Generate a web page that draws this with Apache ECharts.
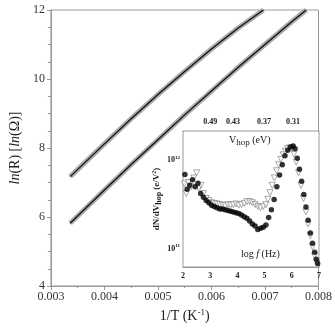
<!DOCTYPE html>
<html>
<head>
<meta charset="utf-8">
<script src="https://cdn.jsdelivr.net/npm/echarts@6/dist/echarts.min.js"></script>
<style>
  html, body { margin: 0; padding: 0; background: #fff; }
  #chart { width: 335px; height: 332px; }
</style>
</head>
<body>
<div id="chart"></div>
<script>
// main plot: ln(R) vs 1/T
const invT_upper = [0.00336, 0.0040, 0.0045, 0.0050, 0.0055, 0.0060, 0.0065, 0.00697];
const lnR_upper  = [7.17, 8.12, 8.85, 9.55, 10.22, 10.87, 11.48, 12.0];
const invT_lower = [0.00336, 0.0040, 0.0045, 0.0050, 0.0055, 0.0060, 0.0065, 0.0070, 0.0075, 0.00777];
const lnR_lower  = [5.82, 6.78, 7.52, 8.24, 8.96, 9.65, 10.34, 11.0, 11.66, 12.0];

// inset: dN/dV_hop vs log f
const logf_circ = [2.07, 2.15, 2.25, 2.35, 2.45, 2.55, 2.65, 2.75, 2.85, 2.95, 3.05, 3.15, 3.25, 3.35, 3.45,
  3.55, 3.65, 3.75, 3.85, 3.95, 4.05, 4.15, 4.25, 4.35, 4.45, 4.55, 4.65, 4.75, 4.85, 4.95, 5.05, 5.15,
  5.25, 5.35, 5.45, 5.55, 5.65, 5.75, 5.85, 5.95, 6.05, 6.12, 6.2, 6.28, 6.36, 6.44, 6.52, 6.6, 6.68,
  6.76, 6.84, 6.9, 6.95];
const dndv_circ = [6.9e11, 4.7e11, 5.2e11, 6.0e11, 5.0e11, 5.5e11, 4.2e11, 3.8e11, 3.5e11, 3.3e11, 3.1e11,
  3.0e11, 2.9e11, 2.8e11, 2.8e11, 2.75e11, 2.7e11, 2.65e11, 2.6e11, 2.55e11, 2.5e11, 2.4e11, 2.3e11, 2.2e11,
  2.05e11, 1.9e11, 1.8e11, 1.65e11, 1.7e11, 1.75e11, 1.85e11, 2.25e11, 2.75e11, 3.6e11, 5.0e11, 6.8e11,
  8.9e11, 1.12e12, 1.3e12, 1.41e12, 1.45e12, 1.35e12, 1.05e12, 7.9e11, 5.8e11, 4.1e11, 2.95e11, 2.1e11,
  1.5e11, 1.15e11, 9.1e10, 7.6e10, 6.8e10];
const logf_tri = [2.05, 2.12, 2.2, 2.3, 2.4, 2.5, 2.58, 2.66, 2.75, 2.85, 2.95, 3.05, 3.15, 3.25, 3.35, 3.45,
  3.55, 3.65, 3.75, 3.85, 3.95, 4.05, 4.15, 4.25, 4.35, 4.45, 4.55, 4.65, 4.75, 4.85, 4.95, 5.05, 5.12,
  5.2, 5.28, 5.36, 5.44, 5.52, 5.6, 5.68, 5.76, 5.84, 5.92, 6.0, 6.08, 6.16, 6.25, 6.34, 6.43, 6.52,
  6.6, 6.68, 6.76, 6.84, 6.92];
const dndv_tri = [5.4e11, 4.2e11, 5.6e11, 5.0e11, 6.3e11, 7.2e11, 4.8e11, 5.2e11, 4.2e11, 3.7e11, 3.5e11,
  3.3e11, 3.25e11, 3.2e11, 3.15e11, 3.1e11, 3.05e11, 3.15e11, 3.1e11, 3.15e11, 3.2e11, 3.1e11, 3.15e11,
  3.25e11, 3.4e11, 3.4e11, 3.3e11, 3.15e11, 3.0e11, 2.9e11, 3.0e11, 3.15e11, 3.6e11, 4.3e11, 5.2e11,
  6.3e11, 7.6e11, 8.9e11, 1.02e12, 1.15e12, 1.26e12, 1.35e12, 1.38e12, 1.35e12, 1.17e12, 9.5e11, 7.2e11,
  5.2e11, 3.7e11, 2.6e11, 1.9e11, 1.4e11, 1.05e11, 8.3e10, 6.9e10];

// top axis of inset: V_hop (eV) at log f positions
const vhopPos = [3.0, 3.84, 4.98, 6.04];
const vhopLabels = ['0.49', '0.43', '0.37', '0.31'];

const zip = (a, b) => a.map((v, i) => [v, b[i]]);
const serif = 'Liberation Serif';

const chart = echarts.init(document.getElementById('chart'), null, {renderer: 'canvas'});
const option = {
  backgroundColor: '#ffffff',
  animation: false,
  textStyle: {fontFamily: serif},
  grid: [
    {left: 45, right: 15, top: 10, bottom: 46, show: true, borderColor: '#999', borderWidth: 1},
    {left: 183, right: 16, top: 131, bottom: 65, show: true, borderColor: '#999', borderWidth: 1,
     backgroundColor: '#fff', z: 10}
  ],
  xAxis: [
    {
      type: 'value', gridIndex: 0, min: 0.003, max: 0.008, interval: 0.001,
      name: '1/T (K{s|-1})', nameLocation: 'middle', nameGap: 22,
      nameTextStyle: {fontFamily: serif, fontSize: 14, color: '#222',
        rich: {s: {fontFamily: serif, fontSize: 9, verticalAlign: 'top', padding: [0, 0, 8, 0], color: '#222'}}},
      axisLine: {lineStyle: {color: '#999'}},
      axisTick: {length: 4, lineStyle: {color: '#999'}},
      minorTick: {show: true, splitNumber: 2, length: 2, lineStyle: {color: '#999'}},
      axisLabel: {fontFamily: serif, fontSize: 12, color: '#333', margin: 5},
      splitLine: {show: false}
    },
    {
      type: 'value', gridIndex: 1, min: 2, max: 7, interval: 1, position: 'bottom',
      axisLine: {lineStyle: {color: '#999'}},
      axisTick: {inside: true, length: 3, lineStyle: {color: '#999'}},
      minorTick: {show: true, splitNumber: 5, length: 2, lineStyle: {color: '#aaa'}},
      axisLabel: {fontFamily: serif, fontSize: 8, fontWeight: 'bold', color: '#222', margin: 5},
      splitLine: {show: false}
    },
    {
      type: 'value', gridIndex: 1, min: 2, max: 7, position: 'top',
      axisLine: {lineStyle: {color: '#999'}},
      axisTick: {inside: true, length: 3, customValues: vhopPos, lineStyle: {color: '#999'}},
      axisLabel: {fontFamily: serif, fontSize: 8, fontWeight: 'bold', color: '#222', margin: 5,
        customValues: vhopPos,
        formatter: v => vhopLabels[vhopPos.findIndex(p => Math.abs(p - v) < 1e-6)] || ''},
      splitLine: {show: false}
    }
  ],
  yAxis: [
    {
      type: 'value', gridIndex: 0, min: 4, max: 12, interval: 2,
      name: '{i|ln}(R) [{i|ln}(Ω)]', nameLocation: 'middle', nameGap: 24,
      nameTextStyle: {fontFamily: serif, fontSize: 14, color: '#222',
        rich: {i: {fontFamily: serif, fontSize: 14, fontStyle: 'italic', color: '#222'}}},
      axisLine: {lineStyle: {color: '#999'}},
      axisTick: {length: 4, lineStyle: {color: '#999'}},
      minorTick: {show: true, splitNumber: 4, length: 3, lineStyle: {color: '#999'}},
      axisLabel: {fontFamily: serif, fontSize: 12, color: '#333', margin: 6},
      splitLine: {show: false}
    },
    {
      type: 'log', gridIndex: 1, min: 6.2e10, max: 2.14e12, logBase: 10,
      name: 'dN/dV{s|hop} (e/V{p|2})', nameLocation: 'middle', nameGap: 9,
      nameTextStyle: {fontFamily: serif, fontSize: 9, fontWeight: 'bold', color: '#222',
        rich: {
          s: {fontFamily: serif, fontSize: 8, fontWeight: 'bold', verticalAlign: 'bottom', padding: [4, 0, 0, 0], color: '#222'},
          p: {fontFamily: serif, fontSize: 6, fontWeight: 'bold', verticalAlign: 'top', padding: [0, 0, 5, 0], color: '#222'}
        }},
      axisLine: {lineStyle: {color: '#999'}},
      axisTick: {inside: true, length: 3, lineStyle: {color: '#999'}},
      minorTick: {show: true, length: 2, lineStyle: {color: '#aaa'}},
      axisLabel: {fontFamily: serif, fontSize: 8, fontWeight: 'bold', color: '#222', margin: 3,
        showMinLabel: false, showMaxLabel: false,
        formatter: v => {
          const e = Math.round(Math.log10(v));
          return Math.abs(Math.log10(v) - e) < 1e-6 ? '10{p|' + e + '}' : '';
        },
        rich: {p: {fontFamily: serif, fontSize: 5, fontWeight: 'bold', verticalAlign: 'top', padding: [0, 0, 5, 0], color: '#222'}}},
      splitLine: {show: false}
    }
  ],
  graphic: [
    {type: 'text', left: 229, top: 135, z: 20,
     style: {text: 'V{s|hop} (eV)', fontFamily: serif, fontSize: 10, fill: '#222',
       rich: {s: {fontFamily: serif, fontSize: 9, fill: '#222', verticalAlign: 'bottom', padding: [5, 0, 0, 0]}}}},
    {type: 'text', left: 241, top: 249, z: 20,
     style: {text: 'log {i|f} (Hz)', fontFamily: serif, fontSize: 10, fill: '#222',
       rich: {i: {fontFamily: serif, fontSize: 10, fontStyle: 'italic', fill: '#222'}}}}
  ],
  series: [
    {type: 'line', xAxisIndex: 0, yAxisIndex: 0, data: zip(invT_upper, lnR_upper),
     symbol: 'none', lineStyle: {color: '#aaa', width: 5, join: 'round'}},
    {type: 'line', xAxisIndex: 0, yAxisIndex: 0, data: zip(invT_upper, lnR_upper),
     symbol: 'none', lineStyle: {color: '#111', width: 1.3, join: 'round'}},
    {type: 'line', xAxisIndex: 0, yAxisIndex: 0, data: zip(invT_lower, lnR_lower),
     symbol: 'none', lineStyle: {color: '#aaa', width: 5, join: 'round'}},
    {type: 'line', xAxisIndex: 0, yAxisIndex: 0, data: zip(invT_lower, lnR_lower),
     symbol: 'none', lineStyle: {color: '#111', width: 1.3, join: 'round'}},
    {type: 'scatter', xAxisIndex: 1, yAxisIndex: 1, data: zip(logf_tri, dndv_tri), z: 12,
     symbol: 'triangle', symbolRotate: 180, symbolSize: 6,
     itemStyle: {color: '#fff', borderColor: '#777', borderWidth: 0.8}},
    {type: 'scatter', xAxisIndex: 1, yAxisIndex: 1, data: zip(logf_circ, dndv_circ), z: 13,
     symbol: 'circle', symbolSize: 5.5, itemStyle: {color: '#000'}}
  ]
};
chart.setOption(option);
</script>
</body>
</html>
